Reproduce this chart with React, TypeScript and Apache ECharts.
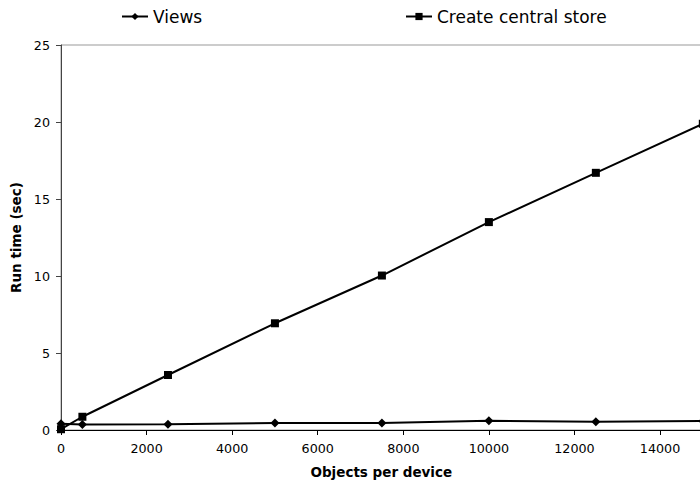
import React, { useEffect, useRef } from "react";
import * as echarts from "echarts";

const xValues = [0, 500, 2500, 5000, 7500, 10000, 12500, 15000];
const viewsValues = [0.4, 0.35, 0.38, 0.45, 0.45, 0.6, 0.54, 0.58];
const storeValues = [0.05, 0.86, 3.57, 6.93, 10.03, 13.5, 16.7, 19.88];
const seriesNames = ["Views", "Create central store"];

const FONT = "DejaVu Sans";
const CHART_W = 760;

export default function App() {
  const ref = useRef<HTMLDivElement>(null);
  useEffect(() => {
    document.body.style.margin = "0";
    const chart = echarts.init(ref.current!, null, { renderer: "svg" });
    const legendText = { fontFamily: FONT, fontSize: 17, color: "#000" };
    chart.setOption({
      animation: false,
      backgroundColor: "#ffffff",
      textStyle: { fontFamily: FONT },
      legend: [
        {
          data: [seriesNames[0]],
          left: 121,
          top: 8,
          padding: 0,
          itemWidth: 26,
          itemHeight: 9,
          textStyle: legendText,
        },
        {
          data: [seriesNames[1]],
          left: 405,
          top: 8,
          padding: 0,
          itemWidth: 26,
          itemHeight: 9,
          textStyle: legendText,
        },
      ],
      grid: {
        left: 61,
        top: 45,
        bottom: 55,
        right: CHART_W - 745.6,
        show: true,
        borderColor: "#999",
        borderWidth: 1,
      },
      xAxis: {
        type: "value",
        min: 0,
        max: 16000,
        interval: 2000,
        name: "Objects per device",
        nameLocation: "middle",
        nameGap: 35,
        nameTextStyle: {
          fontFamily: FONT,
          fontSize: 13.5,
          fontWeight: "bold",
          color: "#000",
          padding: [0, 44, 0, 0],
        },
        axisLine: { show: true, lineStyle: { color: "#000", width: 1 } },
        axisTick: { show: true, inside: false, length: 5, lineStyle: { color: "#000" } },
        axisLabel: {
          fontFamily: FONT,
          fontSize: 12.7,
          color: "#000",
          margin: 12,
          showMaxLabel: false,
          formatter: (v: number) => String(v),
        },
        splitLine: { show: false },
      },
      yAxis: {
        type: "value",
        min: 0,
        max: 25,
        interval: 5,
        name: "Run time (sec)",
        nameLocation: "middle",
        nameGap: 36,
        nameTextStyle: { fontFamily: FONT, fontSize: 13.5, fontWeight: "bold", color: "#000" },
        axisLine: { show: true, lineStyle: { color: "#444", width: 1 } },
        axisTick: { show: true, inside: false, length: 5, lineStyle: { color: "#444" } },
        axisLabel: { fontFamily: FONT, fontSize: 12.7, color: "#000", margin: 11 },
        splitLine: { show: false },
      },
      series: [
        {
          name: seriesNames[0],
          type: "line",
          data: xValues.map((x, i) => [x, viewsValues[i]]),
          symbol: "diamond",
          symbolSize: 9,
          color: "#000",
          lineStyle: { color: "#000", width: 2 },
          itemStyle: { color: "#000" },
          z: 3,
        },
        {
          name: seriesNames[1],
          type: "line",
          data: xValues.map((x, i) => [x, storeValues[i]]),
          symbol: "rect",
          symbolSize: 8,
          color: "#000",
          lineStyle: { color: "#000", width: 2 },
          itemStyle: { color: "#000" },
          z: 2,
        },
      ],
    });
    return () => chart.dispose();
  }, []);
  return (
    <div style={{ width: 700, height: 485, overflow: "hidden", position: "relative" }}>
      <div ref={ref} style={{ width: CHART_W, height: 485 }} />
    </div>
  );
}
